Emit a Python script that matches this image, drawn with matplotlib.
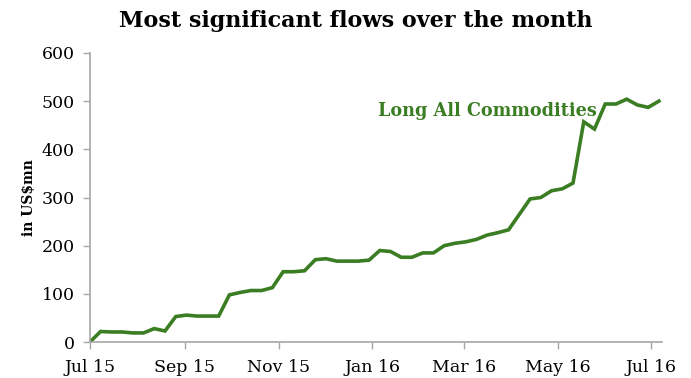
import pandas as pd
import matplotlib.pyplot as plt

# weekly cumulative flows, US$ mn
dates = pd.date_range("2015-07-01", periods=54, freq="7D")
flows = [0, 22, 21, 21, 19, 19, 28, 23, 53, 56,
         54, 54, 54, 98, 103, 107, 107, 113, 146, 146,
         148, 171, 173, 168, 168, 168, 170, 190, 188, 176,
         176, 185, 185, 200, 205, 208, 213, 222, 227, 233,
         265, 297, 300, 314, 318, 330, 457, 442, 494, 494,
         504, 492, 487, 500]
series_name = "Long All Commodities"
tick_dates = pd.date_range("2015-07-01", periods=7, freq="2MS")
tick_labels = ["Jul 15", "Sep 15", "Nov 15", "Jan 16", "Mar 16", "May 16", "Jul 16"]

green = "#3b7d23"
grey = "#a6a6a6"
serif = ["DejaVu Serif"]

fig = plt.figure(figsize=(6.91, 3.78), dpi=100)
ax = fig.add_axes([0.130, 0.095, 0.828, 0.765])

ax.plot(dates, flows, color=green, lw=2.6, solid_joinstyle="miter")

ax.set_ylim(0, 600)
ax.set_yticks(range(0, 601, 100))
ax.set_xlim(dates[0], pd.Timestamp("2016-07-08"))
ax.set_xticks(tick_dates)
ax.set_xticklabels(tick_labels)

for side in ("top", "right"):
    ax.spines[side].set_visible(False)
for side in ("left", "bottom"):
    ax.spines[side].set_color(grey)
    ax.spines[side].set_linewidth(1.2)
ax.tick_params(colors=grey, length=5, width=1.0, labelcolor="black", labelsize=12.5)
ax.tick_params(axis="x", pad=7)
ax.tick_params(axis="y", pad=6)
for lbl in ax.get_xticklabels() + ax.get_yticklabels():
    lbl.set_family(serif)

ax.set_ylabel("in US$mn", family=serif, fontweight="bold", fontsize=10, labelpad=4)
ax.text(pd.Timestamp("2016-01-05"), 479, series_name, color=green, family=serif,
        fontweight="bold", fontsize=12.7, ha="left", va="center")

fig.text(0.515, 0.945, "Most significant flows over the month", family=serif,
         fontweight="bold", fontsize=16, ha="center", va="center")

fig.savefig("out.png", dpi=100)
